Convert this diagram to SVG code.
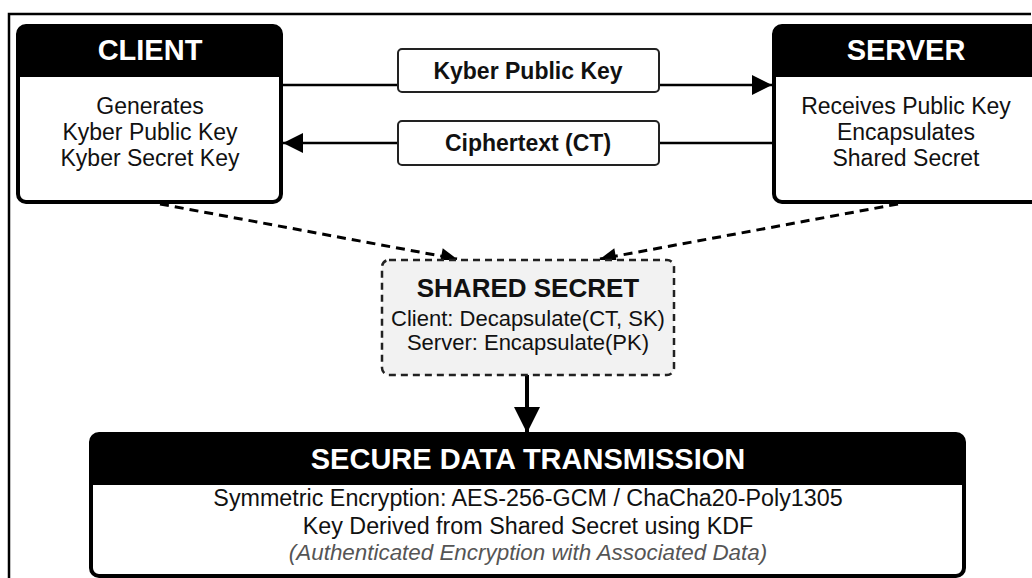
<svg xmlns="http://www.w3.org/2000/svg" width="1032" height="578" viewBox="0 0 1032 578">
  <style>
    text { font-family: "Liberation Sans", Arial, sans-serif; text-anchor: middle; }
    .box { fill: #ffffff; stroke: #000000; stroke-width: 4; }
    .hdr { fill: #000000; }
    .title { fill: #ffffff; font-weight: bold; font-size: 29px; }
    .body { fill: #111111; font-size: 23px; }
    .lbltext { fill: #111111; font-weight: bold; font-size: 23px; }
    .conn { fill: none; stroke: #000000; stroke-width: 2.5; }
    .dash { fill: none; stroke: #000000; stroke-width: 3; stroke-dasharray: 9 6; }
  </style>
  <defs>
    <marker id="arrowL" viewBox="0 0 10 10" refX="10" refY="5" markerWidth="25" markerHeight="20" markerUnits="userSpaceOnUse" orient="auto">
      <path d="M0,0 L10,5 L0,10 z" fill="#000000"/>
    </marker>
    <marker id="arrowD" viewBox="0 0 10 10" refX="10" refY="5" markerWidth="26" markerHeight="16" markerUnits="userSpaceOnUse" orient="auto">
      <path d="M0,0 L10,5 L0,10 z" fill="#000000"/>
    </marker>
    <marker id="arrowB" viewBox="0 0 10 10" refX="10" refY="5" markerWidth="40" markerHeight="26" markerUnits="userSpaceOnUse" orient="auto">
      <path d="M0,0 L10,5 L0,10 z" fill="#000000"/>
    </marker>
  </defs>

  <rect width="1032" height="578" fill="#ffffff"/>
  <!-- outer frame -->
  <path d="M9,590 L9,14 L1031,14" fill="none" stroke="#000000" stroke-width="2.5"/>

  <g id="connectors">
    <line class="conn" x1="282" y1="85" x2="772" y2="85" marker-end="url(#arrowL)"/>
    <line class="conn" x1="773" y1="143" x2="283" y2="143" marker-end="url(#arrowL)"/>
    <line class="dash" x1="160" y1="204" x2="457" y2="259" marker-end="url(#arrowD)"/>
    <line class="dash" x1="898" y1="204" x2="600" y2="259" marker-end="url(#arrowD)"/>
    <line x1="527" y1="375" x2="527" y2="433" stroke="#000000" stroke-width="4" marker-end="url(#arrowB)"/>
  </g>

  <g id="label-public-key">
    <rect x="398" y="49" width="261" height="43" rx="4" fill="#ffffff" stroke="#222222" stroke-width="2"/>
    <text class="lbltext" x="528" y="79">Kyber Public Key</text>
  </g>
  <g id="label-ciphertext">
    <rect x="398" y="121" width="261" height="44" rx="4" fill="#ffffff" stroke="#222222" stroke-width="2"/>
    <text class="lbltext" x="528" y="151">Ciphertext (CT)</text>
  </g>

  <g id="client">
    <rect class="box" x="18" y="26" width="263" height="176" rx="8"/>
    <path class="hdr" d="M26,26 H273 A8,8 0 0 1 281,34 V77 H18 V34 A8,8 0 0 1 26,26 z"/>
    <text class="title" x="150" y="60">CLIENT</text>
    <text class="body" x="150" y="114">Generates</text>
    <text class="body" x="150" y="140">Kyber Public Key</text>
    <text class="body" x="150" y="166">Kyber Secret Key</text>
  </g>

  <g id="server">
    <rect class="box" x="774" y="26" width="270" height="176" rx="8"/>
    <path class="hdr" d="M782,26 H1044 V77 H774 V34 A8,8 0 0 1 782,26 z"/>
    <text class="title" x="906" y="60">SERVER</text>
    <text class="body" x="906" y="114">Receives Public Key</text>
    <text class="body" x="906" y="140">Encapsulates</text>
    <text class="body" x="906" y="166">Shared Secret</text>
  </g>

  <g id="shared-secret">
    <rect x="382" y="260" width="292" height="115" rx="7" fill="#f2f2f2" stroke="#222222" stroke-width="2.5" stroke-dasharray="7 5"/>
    <text x="528" y="297" fill="#111111" font-weight="bold" font-size="26px">SHARED SECRET</text>
    <text x="528" y="326" fill="#111111" font-size="22px">Client: Decapsulate(CT, SK)</text>
    <text x="528" y="350" fill="#111111" font-size="22px">Server: Encapsulate(PK)</text>
  </g>

  <g id="secure-data-transmission">
    <rect class="box" x="91" y="434" width="873" height="142" rx="8"/>
    <path class="hdr" d="M99,434 H956 A8,8 0 0 1 964,442 V485 H91 V442 A8,8 0 0 1 99,434 z"/>
    <text class="title" x="528" y="469" font-size="31px">SECURE DATA TRANSMISSION</text>
    <text x="528" y="506" fill="#111111" font-size="23.3px">Symmetric Encryption: AES-256-GCM / ChaCha20-Poly1305</text>
    <text x="528" y="534" fill="#111111" font-size="23.3px">Key Derived from Shared Secret using KDF</text>
    <text x="528" y="560" fill="#555555" font-size="22.4px" font-style="italic">(Authenticated Encryption with Associated Data)</text>
  </g>
</svg>
